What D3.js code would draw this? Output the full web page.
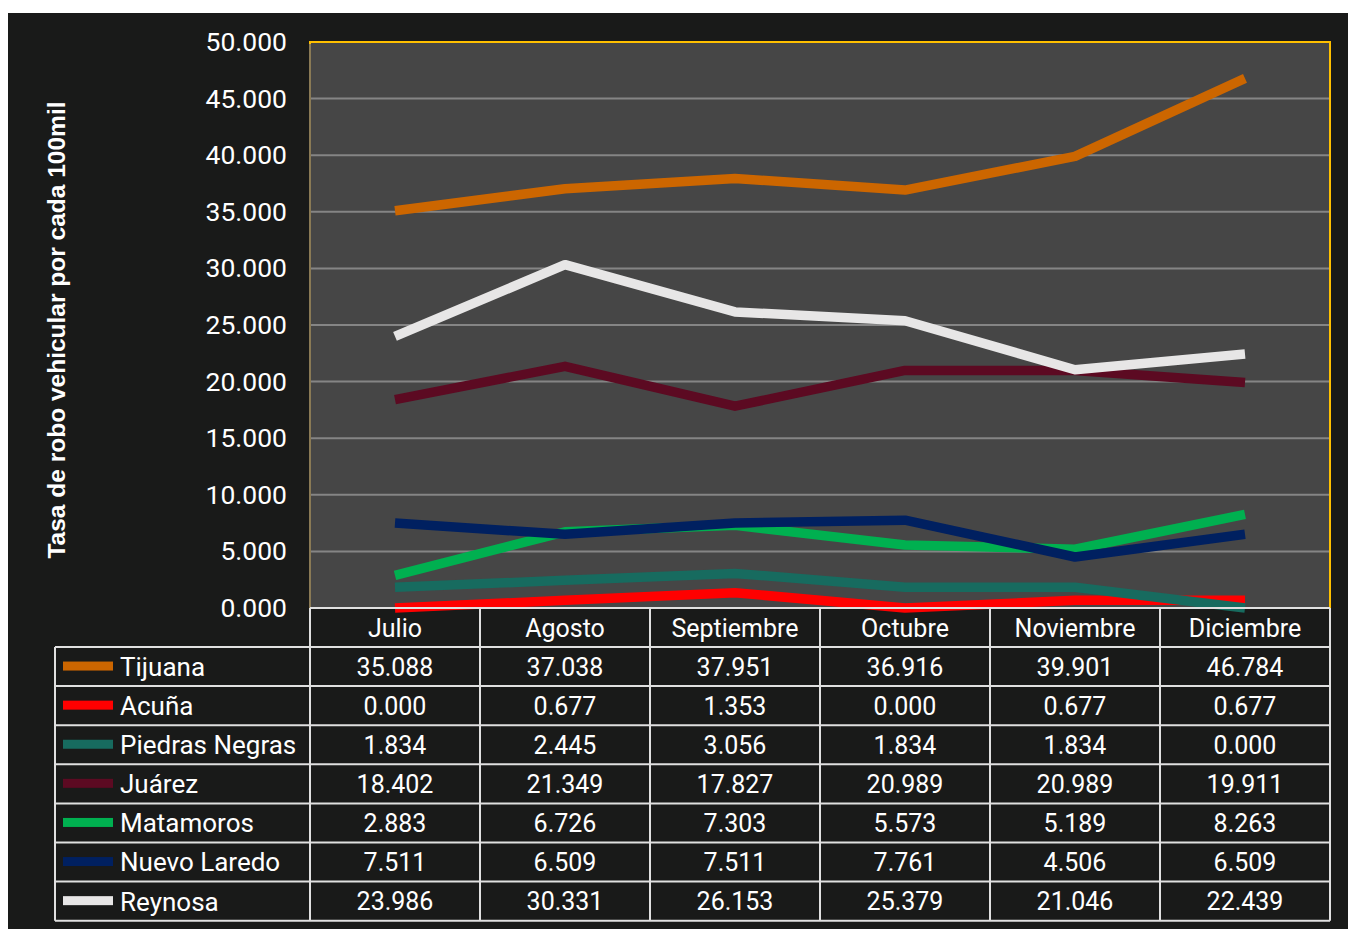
<!DOCTYPE html>
<html>
<head>
<meta charset="utf-8">
<title>Robo vehicular</title>
<script src="https://d3js.org/d3.v7.min.js"></script>
<style>
  body { margin: 0; background: #fff; }
  text { font-family: Roboto, "Liberation Sans", sans-serif; fill: #fff; }
</style>
</head>
<body>
<div id="chart"></div>
<script>
var months = ["Julio", "Agosto", "Septiembre", "Octubre", "Noviembre", "Diciembre"];
var cities = ["Tijuana", "Acuña", "Piedras Negras", "Juárez", "Matamoros", "Nuevo Laredo", "Reynosa"];
var colors = ["#cc6600", "#ff0000", "#176b5f", "#5c0a22", "#00b050", "#002060", "#e7e6e6"];
var tijuana = [35.088, 37.038, 37.951, 36.916, 39.901, 46.784];
var acuna = [0.000, 0.677, 1.353, 0.000, 0.677, 0.677];
var piedrasNegras = [1.834, 2.445, 3.056, 1.834, 1.834, 0.000];
var juarez = [18.402, 21.349, 17.827, 20.989, 20.989, 19.911];
var matamoros = [2.883, 6.726, 7.303, 5.573, 5.189, 8.263];
var nuevoLaredo = [7.511, 6.509, 7.511, 7.761, 4.506, 6.509];
var reynosa = [23.986, 30.331, 26.153, 25.379, 21.046, 22.439];
var yTicks = [0, 5, 10, 15, 20, 25, 30, 35, 40, 45, 50];

var series = [tijuana, acuna, piedrasNegras, juarez, matamoros, nuevoLaredo, reynosa];

var width = 1348, height = 929;
var plot = {left: 310, right: 1330, top: 42, bottom: 608};
var rowH = 39.1, headH = 39, legendLeft = 55;

var svg = d3.select("#chart").append("svg")
    .attr("width", width).attr("height", height);

// dark background
svg.append("rect").attr("x", 8).attr("y", 13)
    .attr("width", width - 8).attr("height", height - 13)
    .attr("fill", "#191a19");

var x = d3.scaleBand().domain(months).range([plot.left, plot.right]).padding(0);
var y = d3.scaleLinear().domain([0, 50]).range([plot.bottom, plot.top]);
var fmt = d3.format(".3f");

// plot area
svg.append("rect")
    .attr("x", plot.left).attr("y", plot.top)
    .attr("width", plot.right - plot.left).attr("height", plot.bottom - plot.top)
    .attr("fill", "#464646");

// gridlines
svg.append("g").selectAll("line")
    .data(yTicks.slice(1))
    .enter().append("line")
    .attr("x1", plot.left).attr("x2", plot.right)
    .attr("y1", d => y(d)).attr("y2", d => y(d))
    .attr("stroke", "#858585").attr("stroke-width", 2);

// plot border
svg.append("path")
    .attr("d", "M" + plot.left + "," + plot.bottom + "V" + plot.top + "H" + plot.right + "V" + plot.bottom)
    .attr("fill", "none").attr("stroke", "#ffc000").attr("stroke-width", 2);
svg.append("line")
    .attr("x1", plot.left).attr("x2", plot.left).attr("y1", plot.top + 2).attr("y2", plot.bottom)
    .attr("stroke", "#8a7a55").attr("stroke-width", 2);

// y axis labels
var yAxis = d3.axisLeft(y).tickValues(yTicks).tickFormat(fmt).tickSize(0).tickPadding(0);
var gy = svg.append("g").attr("transform", "translate(287,0)").call(yAxis);
gy.select(".domain").remove();
gy.selectAll("text")
    .attr("fill", "#fff").style("font-size", "26.5px")
    .style("font-family", "Roboto, sans-serif");

// y title
svg.append("text")
    .attr("transform", "translate(65,330) rotate(-90)")
    .attr("text-anchor", "middle")
    .style("font-family", "'Liberation Sans', Arial, sans-serif")
    .style("font-weight", "bold").style("font-size", "24.5px")
    .text("Tasa de robo vehicular por cada 100mil");

// lines
var line = d3.line()
    .x((d, i) => x(months[i]) + x.bandwidth() / 2)
    .y(d => y(d));
svg.append("g").selectAll("path")
    .data(series)
    .enter().append("path")
    .attr("d", line)
    .attr("fill", "none")
    .attr("stroke", (d, i) => colors[i])
    .attr("stroke-width", 9.5)
    .attr("stroke-linejoin", "round")
    .attr("stroke-linecap", "butt");

// data table
var table = svg.append("g");
var tableTop = plot.bottom + headH;
var tableBottom = tableTop + rowH * cities.length;

// header texts
table.selectAll("text.head")
    .data(months)
    .enter().append("text")
    .attr("class", "head")
    .attr("x", d => x(d) + x.bandwidth() / 2)
    .attr("y", plot.bottom + headH / 2)
    .attr("dy", "0.36em")
    .attr("text-anchor", "middle")
    .style("font-size", "25px")
    .text(d => d);

// rows
var rows = table.selectAll("g.row")
    .data(cities)
    .enter().append("g")
    .attr("class", "row")
    .attr("transform", (d, i) => "translate(0," + (tableTop + i * rowH) + ")");

rows.append("rect")
    .attr("x", 63).attr("y", rowH / 2 - 5)
    .attr("width", 50).attr("height", 9)
    .attr("fill", (d, i) => colors[i]);

rows.append("text")
    .attr("x", 120).attr("y", rowH / 2).attr("dy", "0.36em")
    .style("font-size", "26px")
    .text(d => d);

rows.each(function(c, i) {
  d3.select(this).selectAll("text.val")
    .data(series[i])
    .enter().append("text")
    .attr("class", "val")
    .attr("x", (d, j) => x(months[j]) + x.bandwidth() / 2)
    .attr("y", rowH / 2).attr("dy", "0.36em")
    .attr("text-anchor", "middle")
    .style("font-size", "25px")
    .text(d => fmt(d));
});

// grid lines of the table
var gridColor = "#e0e0e0";
var hLines = d3.range(cities.length + 1).map(i => tableTop + i * rowH);
table.selectAll("line.h")
    .data(hLines)
    .enter().append("line")
    .attr("x1", legendLeft).attr("x2", plot.right)
    .attr("y1", d => d).attr("y2", d => d)
    .attr("stroke", gridColor).attr("stroke-width", 2);
table.append("line")
    .attr("x1", plot.left).attr("x2", plot.right)
    .attr("y1", plot.bottom).attr("y2", plot.bottom)
    .attr("stroke", gridColor).attr("stroke-width", 2);

var vLines = months.map(m => x(m)).concat([plot.right]);
table.selectAll("line.v")
    .data(vLines)
    .enter().append("line")
    .attr("x1", d => d).attr("x2", d => d)
    .attr("y1", plot.bottom).attr("y2", tableBottom)
    .attr("stroke", gridColor).attr("stroke-width", 2);
table.append("line")
    .attr("x1", legendLeft).attr("x2", legendLeft)
    .attr("y1", tableTop).attr("y2", tableBottom)
    .attr("stroke", gridColor).attr("stroke-width", 2);
</script>
</body>
</html>
